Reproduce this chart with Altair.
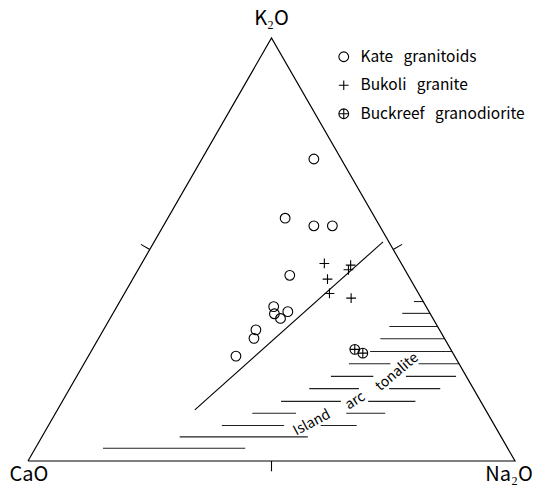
import altair as alt
import pandas as pd
import numpy as np

FONT = "Noto Sans CJK JP"

# Sample compositions (wt% of the K2O + CaO + Na2O sum)
suites = ["Kate granitoids", "Bukoli granite", "Buckreef granodiorite"]

kate_k2o = [71.4, 57.4, 55.6, 55.6, 43.9, 36.5, 34.8, 33.7, 35.3, 31.0, 29.0, 24.8]
kate_na2o = [23.0, 24.1, 30.9, 34.7, 31.8, 32.2, 33.2, 35.0, 35.7, 31.3, 31.9, 30.3]
kate_cao = [5.6, 18.5, 13.5, 9.7, 24.3, 31.3, 32.0, 31.3, 29.0, 37.7, 39.1, 44.9]

bukoli_k2o = [46.7, 46.3, 45.2, 43.0, 39.6, 38.5]
bukoli_na2o = [37.5, 43.1, 43.2, 40.0, 42.1, 47.1]
bukoli_cao = [15.8, 10.6, 11.6, 17.0, 18.3, 14.4]

buckreef_k2o = [26.4, 25.5]
buckreef_na2o = [53.9, 56.0]
buckreef_cao = [19.7, 18.5]

# Dividing line (K2O, Na2O at both ends)
divide_k2o = [12.1, 51.8]
divide_na2o = [28.2, 47.0]

# Island arc tonalite field: hatch rows at constant K2O, segments given as Na2O ranges
field_k2o = [37.7, 34.9, 31.8, 28.9, 25.9, 23.0, 20.0, 17.1, 14.1, 11.3, 8.4, 5.7, 3.0]
field_na2o = [
    [(60.4, 62.3)],
    [(59.4, 65.1)],
    [(58.3, 68.2)],
    [(57.9, 71.1)],
    [(57.3, 74.1)],
    [(54.4, 62.9), (68.7, 77.0)],
    [(52.2, 60.9), (67.6, 77.9)],
    [(49.2, 59.4), (65.6, 76.1)],
    [(44.9, 57.2), (62.8, 72.5)],
    [(40.4, 49.4), (59.7, 67.7)],
    [(35.6, 48.4), (55.9, 63.3)],
    [(28.3, 54.6)],
    [(13.9, 43.1)],
]

field_words = ["Island", "arc", "tonalite"]
field_word_k2o = [9.0, 14.2, 21.0]
field_word_na2o = [53.8, 60.1, 65.3]
field_word_angle = [332, 328, 320]

apex_names = ["CaO", "K₂O", "Na₂O"]


def tern_x(k2o, na2o):
    """Horizontal position along the CaO–Na2O base (0..1)."""
    return (np.asarray(na2o) + np.asarray(k2o) / 2.0) / 100.0


def tern_y(k2o):
    """Height expressed as the K2O fraction (0 at base, 1 at apex)."""
    return np.asarray(k2o) / 100.0


pts = pd.DataFrame({
    "suite": [suites[0]] * len(kate_k2o) + [suites[1]] * len(bukoli_k2o) + [suites[2]] * len(buckreef_k2o),
    "K2O": kate_k2o + bukoli_k2o + buckreef_k2o,
    "Na2O": kate_na2o + bukoli_na2o + buckreef_na2o,
    "CaO": kate_cao + bukoli_cao + buckreef_cao,
})
pts["x"] = tern_x(pts.K2O, pts.Na2O)
pts["y"] = tern_y(pts.K2O)

# triangle outline: CaO -> K2O -> Na2O -> CaO
tri = pd.DataFrame({
    "x": [0.0, 0.5, 1.0, 0.0],
    "y": [0.0, 1.0, 0.0, 0.0],
    "o": [0, 1, 2, 3],
})

# 50 % ticks, pointing outward from each edge
t = 0.021
s3 = np.sqrt(3)
mids = [(0.25, 0.5, -s3 / 2, 0.5), (0.75, 0.5, s3 / 2, 0.5), (0.5, 0.0, 0.0, -1.0)]
ticks = pd.DataFrame([
    {"x": mx, "y": my, "x2": mx + nx * t, "y2": my + ny * t * 2 / s3}
    for mx, my, nx, ny in mids
])

divide = pd.DataFrame({
    "x": [tern_x(divide_k2o[0], divide_na2o[0])],
    "y": [tern_y(divide_k2o[0])],
    "x2": [tern_x(divide_k2o[1], divide_na2o[1])],
    "y2": [tern_y(divide_k2o[1])],
})

hatch_rows = []
for k, segs in zip(field_k2o, field_na2o):
    for a, b in segs:
        hatch_rows.append({"x": tern_x(k, a), "x2": tern_x(k, b), "y": tern_y(k)})
hatch = pd.DataFrame(hatch_rows)

words = pd.DataFrame({
    "word": field_words,
    "x": tern_x(field_word_k2o, field_word_na2o),
    "y": tern_y(field_word_k2o),
    "angle": field_word_angle,
})

apices = pd.DataFrame({
    "name": apex_names,
    "x": [0.0, 0.5, 1.0],
    "y": [0.0, 1.0, 0.0],
})

xs = alt.Scale(domain=[-28 / 487, 508 / 487], nice=False, zero=False)
ys = alt.Scale(domain=[-27 / 423, 461 / 423], nice=False, zero=False)
X = alt.X("x:Q", scale=xs, axis=None)
Y = alt.Y("y:Q", scale=ys, axis=None)

outline = alt.Chart(tri).mark_line(color="black", strokeWidth=1.2).encode(
    x=X, y=Y, order="o:Q"
)

tick_marks = alt.Chart(ticks).mark_rule(color="black", strokeWidth=1.1).encode(
    x=X, y=Y, x2="x2:Q", y2="y2:Q"
)

divide_line = alt.Chart(divide).mark_rule(color="black", strokeWidth=1.1).encode(
    x=X, y=Y, x2="x2:Q", y2="y2:Q"
)

hatch_lines = alt.Chart(hatch).mark_rule(color="#222", strokeWidth=1.1).encode(
    x=X, y=Y, x2="x2:Q"
)

circle = "circle"
plus = "M-1,0H1M0,-1V1"
oplus = "M-1,0A1,1,0,1,0,1,0A1,1,0,1,0,-1,0ZM-1,0H1M0,-1V1"

markers = alt.Chart(pts).mark_point(
    filled=False, color="black", strokeWidth=1.1, size=95, opacity=1
).encode(
    x=X,
    y=Y,
    shape=alt.Shape(
        "suite:N",
        scale=alt.Scale(domain=suites, range=[circle, plus, oplus]),
        legend=alt.Legend(
            title=None,
            orient="none",
            legendX=336,
            legendY=49,
            padding=0,
            labelFont=FONT,
            labelFontSize=15.5,
            labelColor="black",
            labelOffset=9,
            labelLimit=400,
            rowPadding=11.5,
            symbolSize=95,
            symbolStrokeColor="black",
            symbolFillColor="transparent",
            symbolStrokeWidth=1.1,
            symbolOpacity=1,
            labelExpr="replace(datum.label, ' ', '\u00a0\u00a0\u00a0')",
        ),
    ),
)

label_style = dict(font=FONT, fontSize=20, color="black", baseline="middle", align="center")
apex_k = alt.Chart(apices[apices.name == "K₂O"]).mark_text(dy=-19, **label_style).encode(
    x=X, y=Y, text="name:N"
)
apex_ca = alt.Chart(apices[apices.name == "CaO"]).mark_text(dx=1, dy=14, **label_style).encode(
    x=X, y=Y, text="name:N"
)
apex_na = alt.Chart(apices[apices.name == "Na₂O"]).mark_text(dx=-6, dy=14, **label_style).encode(
    x=X, y=Y, text="name:N"
)

field_text = alt.Chart(words).mark_text(
    font=FONT, fontSize=14, color="black", baseline="middle", align="center"
).encode(x=X, y=Y, text="word:N", angle=alt.Angle("angle:Q", scale=None))

chart = alt.layer(
    hatch_lines, divide_line, outline, tick_marks, markers,
    apex_k, apex_ca, apex_na, field_text,
).properties(
    width=536, height=488, autosize=alt.AutoSizeParams(type="none"), padding=0,
    background="white",
).configure_view(stroke=None)

chart.save("out.html", embed_options={"renderer": "svg", "actions": False})
